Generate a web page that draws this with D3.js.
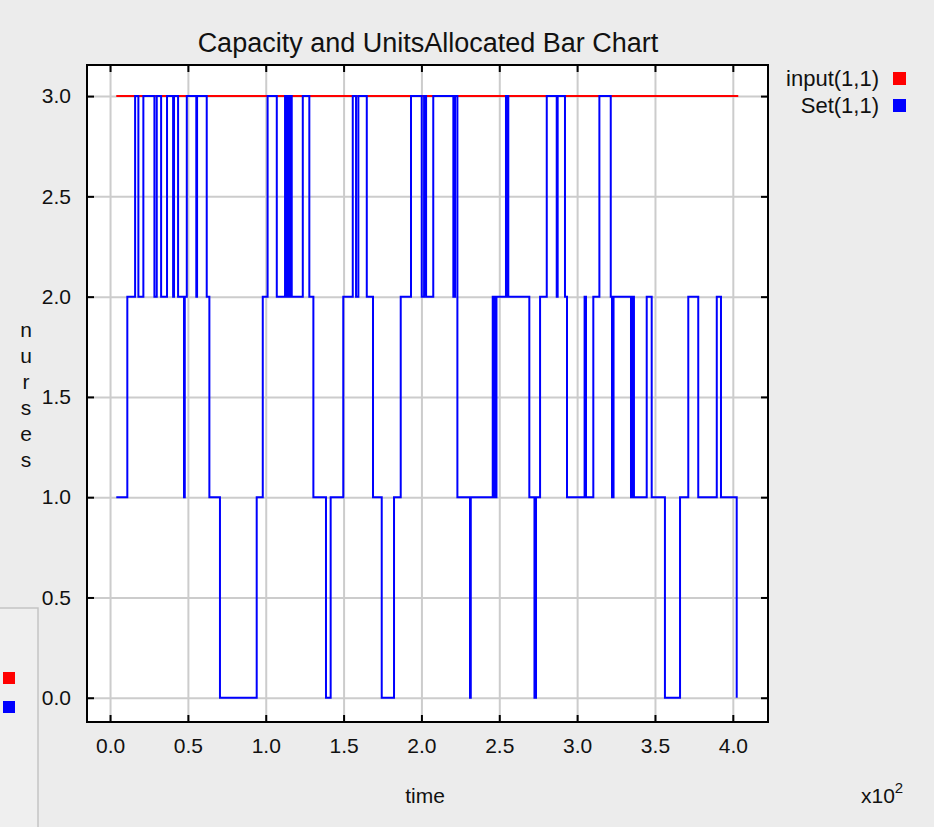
<!DOCTYPE html>
<html>
<head>
<meta charset="utf-8">
<script src="https://cdn.jsdelivr.net/npm/d3@7/dist/d3.min.js"></script>
<style>
  body { margin: 0; background: #ececec; }
  text { font-family: "Liberation Sans", Arial, sans-serif; fill: #111; }
</style>
</head>
<body>
<div id="chart"></div>
<script>
// Set(1,1) step series: time where each level starts, and the level
var setTime = [4, 11.1, 16.1, 18.2, 21.4, 28.5, 30.0, 32.8, 36.6, 40.5, 41.1, 43.7, 47.5, 48.0, 49.3,
  55.4, 55.9, 62.1, 63.8, 70.6, 94.2, 98.1, 101.2, 107.1, 112.4, 113.2, 113.6, 114.3, 114.7, 115.5,
  115.9, 116.7, 123.8, 128.0, 130.6, 138.7, 141.7, 149.8, 155.9, 158.0, 159.5, 164.9, 168.9, 174.5,
  182.4, 186.7, 193.3, 200.2, 201.7, 203.0, 207.6, 220.5, 221.6, 223.1, 231.2, 231.7, 245.8, 246.4,
  247.0, 247.6, 248.2, 254.3, 255.0, 255.3, 255.8, 269.3, 272.6, 273.6, 276.2, 280.5, 286.9, 287.5,
  292.2, 293.5, 304.8, 305.7, 310.4, 314.3, 321.6, 322.4, 323.4, 334.6, 335.6, 336.5, 344.7, 347.9,
  356.4, 366.1, 371.4, 377.8, 389.7, 392.4, 402.5];
var setValue = [1, 2, 3, 2, 3, 2, 3, 2, 3, 2, 3, 2, 1, 2, 3,
  2, 3, 2, 1, 0, 1, 2, 3, 2, 3, 2, 3, 2, 3, 2,
  3, 2, 3, 2, 1, 0, 1, 2, 3, 2, 3, 2, 1, 0,
  1, 2, 3, 2, 3, 2, 3, 2, 3, 1, 0, 1, 2, 1,
  2, 1, 2, 3, 2, 3, 2, 1, 0, 1, 2, 3, 2, 3,
  2, 1, 2, 1, 2, 3, 2, 1, 2, 1, 2, 1, 2, 1,
  0, 1, 2, 1, 2, 1, 0];

// input(1,1) capacity line
var inputTime = [4, 403.5];
var inputValue = [3, 3];

var xTicks = [0, 50, 100, 150, 200, 250, 300, 350, 400];
var yTicks = [0, 0.5, 1, 1.5, 2, 2.5, 3];
var seriesNames = ["input(1,1)", "Set(1,1)"];
var seriesColors = ["#ff0000", "#0000ff"];
var yLabel = "nurses";

var W = 934, H = 827;
var margin = {top: 65, right: 166, bottom: 105, left: 87},
    width = W - margin.left - margin.right,
    height = H - margin.top - margin.bottom;

var svg = d3.select("#chart").append("svg")
    .attr("width", W)
    .attr("height", H);

// small side panel bottom-left
svg.append("rect")
    .attr("x", -2).attr("y", 608).attr("width", 40).attr("height", 230)
    .attr("fill", "#efefef").attr("stroke", "#c4c4c4").attr("stroke-width", 1.5);
svg.selectAll(".sideKey").data(seriesColors).enter().append("rect")
    .attr("x", 3).attr("y", function(d, i) { return 672 + i * 29; })
    .attr("width", 12).attr("height", 12)
    .attr("fill", function(d) { return d; });

var g = svg.append("g")
    .attr("transform", "translate(" + margin.left + "," + margin.top + ")");

var xScale = d3.scaleLinear().domain([-14.8, 422.6]).range([0, width]);
var yScale = d3.scaleLinear().domain([-0.121, 3.155]).range([height, 0]);

g.append("rect").attr("width", width).attr("height", height).attr("fill", "#fff");

// grid
g.append("g")
    .attr("class", "grid")
    .attr("transform", "translate(0," + height + ")")
    .call(d3.axisBottom(xScale).tickValues(xTicks).tickSize(-height).tickFormat(""))
    .call(function(s) { s.select(".domain").remove(); })
    .selectAll("line").attr("stroke", "#cccccc").attr("stroke-width", 2);
g.append("g")
    .attr("class", "grid")
    .call(d3.axisLeft(yScale).tickValues(yTicks).tickSize(-width).tickFormat(""))
    .call(function(s) { s.select(".domain").remove(); })
    .selectAll("line").attr("stroke", "#cccccc").attr("stroke-width", 2);

// lines
var line = d3.line()
    .x(function(d) { return xScale(d.t); })
    .y(function(d) { return yScale(d.v); })
    .curve(d3.curveStepAfter);

g.append("path")
    .datum(inputTime.map(function(t, i) { return {t: t, v: inputValue[i]}; }))
    .attr("fill", "none").attr("stroke", seriesColors[0]).attr("stroke-width", 2)
    .attr("d", line);

g.append("path")
    .datum(setTime.map(function(t, i) { return {t: t, v: setValue[i]}; }))
    .attr("fill", "none").attr("stroke", seriesColors[1]).attr("stroke-width", 2)
    .attr("d", line);

// frame
g.append("rect").attr("width", width).attr("height", height)
    .attr("fill", "none").attr("stroke", "#000").attr("stroke-width", 2);

// axes with inward ticks
var fmt = d3.format(".1f");
var xAxis = g.append("g")
    .attr("transform", "translate(0," + height + ")")
    .call(d3.axisBottom(xScale).tickValues(xTicks).tickSize(-7).tickSizeOuter(0).tickPadding(16)
        .tickFormat(function(d) { return fmt(d / 100); }));
var yAxis = g.append("g")
    .call(d3.axisLeft(yScale).tickValues(yTicks).tickSize(-7).tickSizeOuter(0).tickPadding(16)
        .tickFormat(fmt));
g.append("g")
    .attr("transform", "translate(" + width + ",0)")
    .call(d3.axisRight(yScale).tickValues(yTicks).tickSize(-7).tickSizeOuter(0).tickFormat(""));
g.append("g")
    .call(d3.axisTop(xScale).tickValues(xTicks).tickSize(-7).tickSizeOuter(0).tickFormat(""));

g.selectAll(".domain").remove();
g.selectAll(".tick line").filter(function() { return this.parentNode.parentNode.getAttribute("class") !== "grid"; })
    .attr("stroke", "#000").attr("stroke-width", 2);
xAxis.selectAll("text").attr("font-size", 21).attr("font-family", "Liberation Sans, Arial, sans-serif").attr("fill", "#111");
yAxis.selectAll("text").attr("font-size", 21).attr("font-family", "Liberation Sans, Arial, sans-serif").attr("fill", "#111");

// title and labels
svg.append("text")
    .attr("x", 428).attr("y", 52)
    .attr("text-anchor", "middle").attr("font-size", 27)
    .text("Capacity and UnitsAllocated Bar Chart");

svg.append("text")
    .attr("x", 425).attr("y", 803)
    .attr("text-anchor", "middle").attr("font-size", 21)
    .text("time");

var mult = svg.append("text").attr("x", 861).attr("y", 803).attr("font-size", 21);
mult.append("tspan").text("x10");
mult.append("tspan").attr("dy", -10).attr("font-size", 15).text("2");

svg.selectAll(".ylab").data(yLabel.split("")).enter().append("text")
    .attr("x", 26).attr("y", function(d, i) { return 337 + i * 26; })
    .attr("text-anchor", "middle").attr("font-size", 21)
    .text(function(d) { return d; });

// legend
var legend = svg.selectAll(".legend").data(seriesNames).enter().append("g")
    .attr("transform", function(d, i) { return "translate(0," + (86 + i * 27) + ")"; });
legend.append("text")
    .attr("x", 879).attr("y", 0).attr("text-anchor", "end").attr("font-size", 22)
    .text(function(d) { return d; });
legend.append("rect")
    .attr("x", 893).attr("y", -14).attr("width", 13).attr("height", 13)
    .attr("fill", function(d, i) { return seriesColors[i]; });
</script>
</body>
</html>
